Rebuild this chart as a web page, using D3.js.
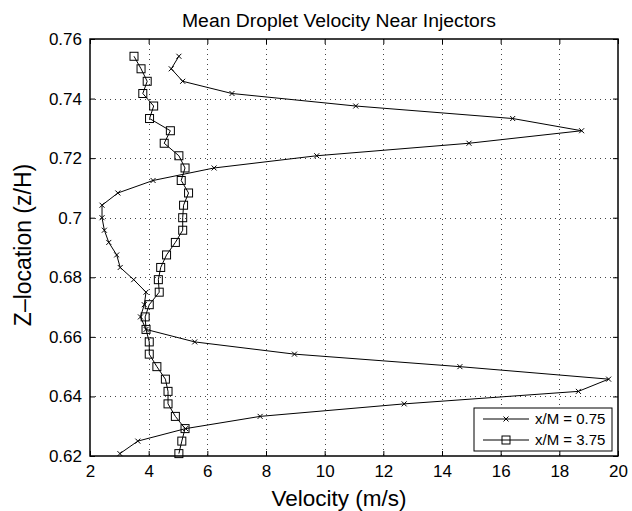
<!DOCTYPE html>
<html>
<head>
<meta charset="utf-8">
<script src="https://cdn.jsdelivr.net/npm/d3@7"></script>
<style>
  body { margin: 0; background: #fff; }
  text { font-family: "Liberation Sans", Arial, sans-serif; fill: #000; }
</style>
</head>
<body>
<div id="chart"></div>
<script>
//Data
var zLevels = [0.6208, 0.6250, 0.6292, 0.6333, 0.6375, 0.6417, 0.6458, 0.6500, 0.6542, 0.6583,
               0.6625, 0.6667, 0.6708, 0.6750, 0.6792, 0.6833, 0.6875, 0.6917, 0.6958, 0.7000,
               0.7042, 0.7083, 0.7125, 0.7167, 0.7208, 0.7250, 0.7292, 0.7333, 0.7375, 0.7417,
               0.7458, 0.7500, 0.7542];
var velNear = [3.02, 3.63, 5.26, 7.80, 12.71, 18.65, 19.68, 14.61, 8.97, 5.57,
               3.91, 3.72, 3.85, 3.91, 3.49, 3.03, 2.91, 2.64, 2.49, 2.41,
               2.41, 2.95, 4.15, 6.23, 9.73, 14.92, 18.76, 16.41, 11.06, 6.84,
               5.16, 4.77, 5.03];
var velFar = [5.03, 5.13, 5.24, 4.91, 4.66, 4.66, 4.57, 4.28, 4.02, 4.02,
              3.91, 3.88, 4.02, 4.36, 4.33, 4.41, 4.61, 4.91, 5.16, 5.16,
              5.19, 5.36, 5.11, 5.24, 5.03, 4.53, 4.74, 4.03, 4.17, 3.80,
              3.95, 3.74, 3.50];
var seriesNames = ["x/M = 0.75", "x/M = 3.75"];
var xTicks = [2, 4, 6, 8, 10, 12, 14, 16, 18, 20];
var yTicks = [0.62, 0.64, 0.66, 0.68, 0.7, 0.72, 0.74, 0.76];

var w = 632, h = 511;
var plotL = 90, plotR = 618, plotT = 39, plotB = 456;
var labelCx = 339; //title and x label sit a bit left of the plot centre

var svg = d3.select("#chart").append("svg")
  .attr("width", w).attr("height", h);

var xScale = d3.scaleLinear().domain([2, 20]).range([plotL, plotR]);
var yScale = d3.scaleLinear().domain([0.62, 0.76]).range([plotB, plotT]);

//Grid, dotted
var grid = svg.append("g").attr("class", "grid");
grid.selectAll("line.gx")
  .data(xTicks.slice(1, -1))
  .enter().append("line")
  .attr("x1", function(d){ return Math.round(xScale(d)) + 0.5; })
  .attr("x2", function(d){ return Math.round(xScale(d)) + 0.5; })
  .attr("y1", plotT).attr("y2", plotB)
  .attr("stroke", "#444").attr("stroke-width", 1)
  .attr("stroke-dasharray", "1,4");
grid.selectAll("line.gy")
  .data(yTicks.slice(1, -1))
  .enter().append("line")
  .attr("y1", function(d){ return Math.round(yScale(d)) + 0.5; })
  .attr("y2", function(d){ return Math.round(yScale(d)) + 0.5; })
  .attr("x1", plotL).attr("x2", plotR)
  .attr("stroke", "#444").attr("stroke-width", 1)
  .attr("stroke-dasharray", "1,4");

//Axes with inward ticks on all four sides
var xAxis = d3.axisBottom(xScale).tickValues(xTicks).tickSizeInner(-5).tickSizeOuter(0).tickPadding(9);
var yAxis = d3.axisLeft(yScale).tickValues(yTicks).tickSizeInner(-5).tickSizeOuter(0).tickPadding(8)
  .tickFormat(function(d){ return String(+d.toFixed(2)); });
var xAxisTop = d3.axisTop(xScale).tickValues(xTicks).tickSizeInner(-5).tickSizeOuter(0).tickFormat("");
var yAxisRight = d3.axisRight(yScale).tickValues(yTicks).tickSizeInner(-5).tickSizeOuter(0).tickFormat("");

svg.append("g").attr("class", "axis x")
  .attr("transform", "translate(0," + plotB + ")").call(xAxis);
svg.append("g").attr("class", "axis y")
  .attr("transform", "translate(" + plotL + ",0)").call(yAxis);
svg.append("g").attr("transform", "translate(0," + plotT + ")").call(xAxisTop);
svg.append("g").attr("transform", "translate(" + plotR + ",0)").call(yAxisRight);

svg.selectAll(".domain").remove();
svg.selectAll(".tick line").attr("stroke", "#000");
svg.selectAll(".axis text").style("font-size", "17px").attr("fill", "#000");

svg.append("rect")
  .attr("x", plotL).attr("y", plotT)
  .attr("width", plotR - plotL).attr("height", plotB - plotT)
  .attr("fill", "none").attr("stroke", "#000").attr("stroke-width", 1.5);

//Lines
var line = function(vals){
  return d3.line()
    .x(function(d){ return xScale(d); })
    .y(function(d, i){ return yScale(zLevels[i]); })(vals);
};

svg.append("path").attr("d", line(velNear))
  .attr("fill", "none").attr("stroke", "#000").attr("stroke-width", 1);
svg.append("path").attr("d", line(velFar))
  .attr("fill", "none").attr("stroke", "#000").attr("stroke-width", 1);

//Markers
var xMark = function(g, cx, cy){
  g.append("path")
    .attr("d", "M" + (cx - 2.5) + "," + (cy - 2.5) + "L" + (cx + 2.5) + "," + (cy + 2.5) +
               "M" + (cx - 2.5) + "," + (cy + 2.5) + "L" + (cx + 2.5) + "," + (cy - 2.5))
    .attr("stroke", "#000").attr("stroke-width", 1).attr("fill", "none");
};
var sqMark = function(g, cx, cy){
  g.append("rect")
    .attr("x", cx - 4).attr("y", cy - 4).attr("width", 8).attr("height", 8)
    .attr("fill", "none").attr("stroke", "#000").attr("stroke-width", 1);
};

var mNear = svg.append("g");
velNear.forEach(function(v, i){ xMark(mNear, xScale(v), yScale(zLevels[i])); });
var mFar = svg.append("g");
velFar.forEach(function(v, i){ sqMark(mFar, xScale(v), yScale(zLevels[i])); });

//Legend
var lg = svg.append("g");
lg.append("rect")
  .attr("x", 474).attr("y", 408).attr("width", 138).attr("height", 43)
  .attr("fill", "#fff").attr("stroke", "#000").attr("stroke-width", 1);
seriesNames.forEach(function(name, i){
  var yy = 419 + i * 21;
  lg.append("line").attr("x1", 483).attr("x2", 529).attr("y1", yy).attr("y2", yy)
    .attr("stroke", "#000").attr("stroke-width", 1);
  if (i === 0) xMark(lg, 506, yy); else sqMark(lg, 506, yy);
  lg.append("text").attr("x", 535).attr("y", yy + 5)
    .style("font-size", "15px").text(name);
});

//Titles
svg.append("text")
  .attr("x", labelCx).attr("y", 27)
  .attr("text-anchor", "middle")
  .attr("textLength", 314)
  .attr("lengthAdjust", "spacingAndGlyphs")
  .style("font-size", "18px")
  .text("Mean Droplet Velocity Near Injectors");

svg.append("text")
  .attr("x", labelCx).attr("y", 506)
  .attr("text-anchor", "middle")
  .style("font-size", "22.5px")
  .text("Velocity (m/s)");

svg.append("text")
  .attr("transform", "translate(31," + 245 + ") rotate(-90)")
  .attr("text-anchor", "middle")
  .style("font-size", "23px")
  .text("Z\u2013location (z/H)");
</script>
</body>
</html>
